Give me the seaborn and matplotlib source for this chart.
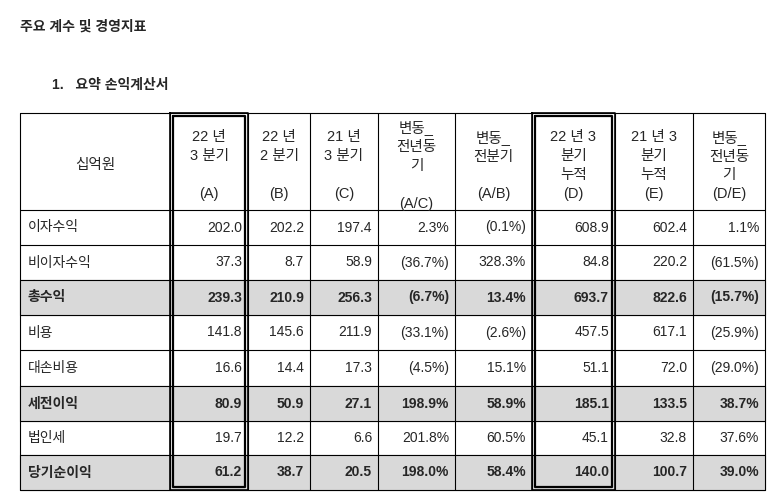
import matplotlib
matplotlib.use("Agg")
import matplotlib.pyplot as plt
import seaborn as sns

sns.set_style("white")
plt.rcParams['font.family'] = ['Liberation Sans', 'Noto Sans CJK KR', 'DejaVu Sans']

title = "주요 계수 및 경영지표"
subtitle = "1.   요약 손익계산서"
headers = ["십억원", "22 년\n3 분기\n\n(A)", "22 년\n2 분기\n\n(B)", "21 년\n3 분기\n\n(C)",
           "변동_\n전년동\n기\n\n(A/C)", "변동_\n전분기\n\n(A/B)", "22 년 3\n분기\n누적\n(D)",
           "21 년 3\n분기\n누적\n(E)", "변동_\n전년동\n기\n(D/E)"]
rows = ["이자수익", "비이자수익", "총수익", "비용", "대손비용", "세전이익", "법인세", "당기순이익"]
col_A = ["202.0", "37.3", "239.3", "141.8", "16.6", "80.9", "19.7", "61.2"]
col_B = ["202.2", "8.7", "210.9", "145.6", "14.4", "50.9", "12.2", "38.7"]
col_C = ["197.4", "58.9", "256.3", "211.9", "17.3", "27.1", "6.6", "20.5"]
col_AC = ["2.3%", "(36.7%)", "(6.7%)", "(33.1%)", "(4.5%)", "198.9%", "201.8%", "198.0%"]
col_AB = ["(0.1%)", "328.3%", "13.4%", "(2.6%)", "15.1%", "58.9%", "60.5%", "58.4%"]
col_D = ["608.9", "84.8", "693.7", "457.5", "51.1", "185.1", "45.1", "140.0"]
col_E = ["602.4", "220.2", "822.6", "617.1", "72.0", "133.5", "32.8", "100.7"]
col_DE = ["1.1%", "(61.5%)", "(15.7%)", "(25.9%)", "(29.0%)", "38.7%", "37.6%", "39.0%"]
bold_rows = ["총수익", "세전이익", "당기순이익"]

cols = [col_A, col_B, col_C, col_AC, col_AB, col_D, col_E, col_DE]

fig = plt.figure(figsize=(7.75, 5.03), dpi=100)
ax = fig.add_axes([0, 0, 1, 1])
ax.set_xlim(0, 775)
ax.set_ylim(503, 0)
ax.axis("off")

xb = [20, 170, 248, 310, 378, 455, 532, 615, 693, 765]
yb = [113, 210, 245, 280, 315, 350, 386, 421, 455, 490]

ax.text(20, 27, title, fontsize=10, fontweight="bold", va="center")
ax.text(52, 85, subtitle, fontsize=10, fontweight="bold", va="center")

for i, r in enumerate(rows):
    if r in bold_rows:
        ax.fill_between([xb[0], xb[-1]], yb[i+1], yb[i+2], color="#d9d9d9", zorder=0)

for x in xb:
    ax.plot([x, x], [yb[0], yb[-1]], color="black", lw=0.8)
for y in yb:
    ax.plot([xb[0], xb[-1]], [y, y], color="black", lw=0.8)

# double-line boxes
for c in (1, 6):
    for off, lw in ((0, 1.2), (3, 1.6)):
        x0, x1 = xb[c] + off, xb[c+1] - off
        y0, y1 = yb[0] + off, yb[-1] - off
        ax.plot([x0, x1, x1, x0, x0], [y0, y0, y1, y1, y0], color="black", lw=lw)

for j, h in enumerate(headers):
    xc = (xb[j] + xb[j+1]) / 2
    ax.text(xc, (yb[0] + yb[1]) / 2 + 4, h, ha="center", va="center", fontsize=10.5,
            linespacing=1.45)

for i, r in enumerate(rows):
    yc = (yb[i+1] + yb[i+2]) / 2
    fw = "bold" if r in bold_rows else "normal"
    ax.text(xb[0] + 8, yc, r, ha="left", va="center", fontsize=10, fontweight=fw)
    for j, col in enumerate(cols):
        ax.text(xb[j+2] - 6, yc, col[i], ha="right", va="center", fontsize=10, fontweight=fw)

fig.savefig("out.png", dpi=100)
